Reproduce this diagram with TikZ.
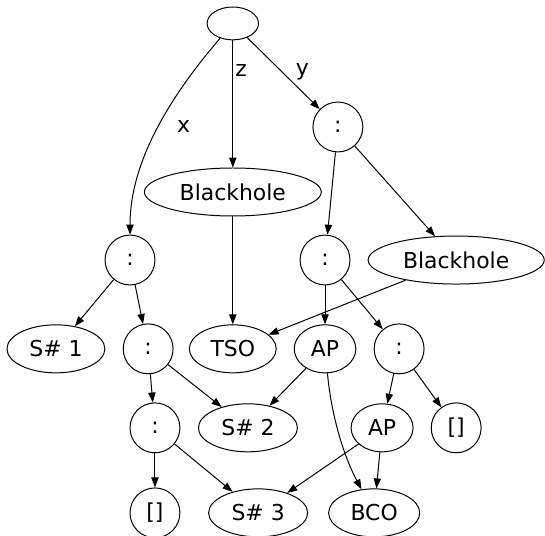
\documentclass[tikz,border=0pt]{standalone}
\usepackage{fontspec}
\setmainfont{DejaVu Sans}
\usepackage{tikz}
\usetikzlibrary{shapes.geometric, arrows.meta}
\newcommand{\heapfont}{\fontsize{16.5pt}{19pt}\selectfont}

\begin{document}
\begin{tikzpicture}[
    cons/.style={circle, draw, minimum size=1.32cm, inner sep=0pt, font=\heapfont, line width=0.75pt},
    val/.style={ellipse, draw, minimum width=#1, minimum height=1.27cm, inner sep=1pt,
        font=\heapfont, line width=0.75pt},
    arr/.style={-{Triangle[length=7.5pt, width=5.5pt]}, line width=0.75pt},
    lbl/.style={font=\heapfont, inner sep=0pt}
]
\useasboundingbox (0,0) rectangle (14.42,-14.18);

% Closure root and its fields
\node[val=1.36cm, minimum height=0.87cm] (root) at (6.16,-0.62) {};
\node[cons] (c1) at (8.94,-3.36) {:};
\node[val=4.68cm] (bh1) at (6.16,-5.08) {Blackhole};

% Second level
\node[cons] (c2) at (3.44,-6.88) {:};
\node[cons] (c3) at (8.60,-6.88) {:};
\node[val=4.66cm] (bh2) at (12.07,-6.88) {Blackhole};

% Third level
\node[val=2.59cm] (s1) at (1.48,-9.23) {S\# 1};
\node[cons] (c4) at (3.92,-9.23) {:};
\node[val=2.30cm] (tso) at (6.16,-9.23) {TSO};
\node[val=1.63cm] (ap1) at (8.60,-9.23) {AP};
\node[cons] (c5) at (10.56,-9.23) {:};

% Fourth level
\node[cons] (c6) at (4.10,-11.32) {:};
\node[val=2.62cm] (s2) at (6.56,-11.32) {S\# 2};
\node[val=1.64cm] (ap2) at (10.11,-11.32) {AP};
\node[cons] (nil1) at (12.07,-11.32) {[]};

% Bottom level
\node[cons] (nil2) at (4.10,-13.57) {[]};
\node[val=2.62cm] (s3) at (6.83,-13.57) {S\# 3};
\node[val=2.41cm] (bco) at (9.90,-13.57) {BCO};

% Fields of the root
\draw[arr] (root) .. controls (3.97,-3.17) and (3.44,-4.76) .. node[lbl, pos=0.4, right=14pt] {x} (c2);
\draw[arr] (root) -- node[lbl, pos=0.24, right=1.5pt] {z} (bh1);
\draw[arr] (root) -- node[lbl, pos=0.48, right=10pt] {y} (c1);

% Pointers
\draw[arr] (c1) -- (c3);
\draw[arr] (c1) -- (bh2);
\draw[arr] (bh1) -- (tso);
\draw[arr] (bh2) -- (tso);
\draw[arr] (c2) -- (s1);
\draw[arr] (c2) -- (c4);
\draw[arr] (c3) -- (ap1);
\draw[arr] (c3) -- (c5);
\draw[arr] (c4) -- (c6);
\draw[arr] (c4) -- (s2);
\draw[arr] (ap1) -- (s2);
\draw[arr] (ap1) .. controls (8.81,-11.38) and (9.26,-12.38) .. (bco);
\draw[arr] (c5) -- (ap2);
\draw[arr] (c5) -- (nil1);
\draw[arr] (c6) -- (nil2);
\draw[arr] (c6) -- (s3);
\draw[arr] (ap2) -- (s3);
\draw[arr] (ap2) -- (bco);

\end{tikzpicture}
\end{document}
